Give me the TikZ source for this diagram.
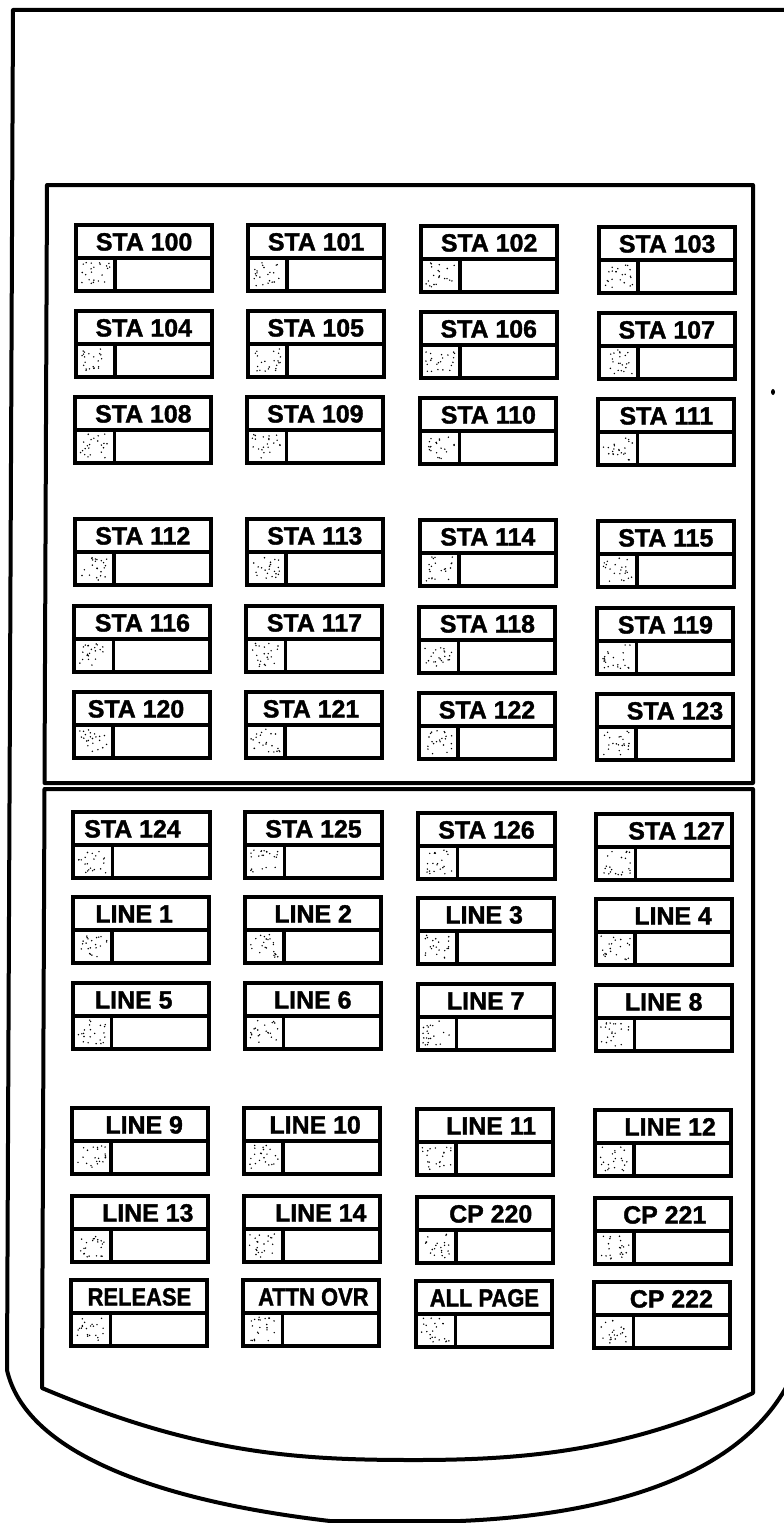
\documentclass[tikz,border=0pt]{standalone}
\usepackage{fontspec}
\setmainfont{Liberation Sans}
\newfontfamily\keyfont{Liberation Sans}[BoldFeatures={FakeBold=1.5}]
\usepackage{graphicx}
\usetikzlibrary{calc}
\tikzset{
  frame/.style={line width=4bp, line join=round},
  keyframe/.style={draw, line width=4bp, minimum width=136bp, minimum height=66bp, inner sep=0pt, outer sep=0pt},
  keyline/.style={line width=3.5bp},
  keytext/.style={inner sep=0pt, font=\keyfont\fontsize{25}{25}\selectfont\bfseries},
  stipple/.style={fill=black}
}
% #1 name, #2 column x (at y=700), #3 top y, #4 label, #5 text shift
\newcommand\kkey[5]{%
  \pgfmathsetmacro\kx{#2-0.0045*(#3-700)}%
  \node[keyframe, anchor=north west] (#1) at (\kx,#3) {};
  \draw[keyline] (#1.west) -- (#1.east);
  \draw[keyline] ([xshift=39bp]#1.west) -- ([xshift=39bp]#1.south west);
  \foreach \i in {1,...,22}{\fill[stipple] ($(#1.south west)+({5+29*rnd},{-5-24*rnd})$) circle (0.8);}
  \pgfmathsetmacro\tx{\kx+68+#5}%
  \node[keytext, anchor=base] (#1-t) at (\tx,#3+25.5) {#4};
}
\begin{document}
\begin{tikzpicture}[x=1bp,y=-1bp]
\pgfmathsetseed{7}
\useasboundingbox (0,0) rectangle (783,1523);
% outer housing
\draw[frame] (790,10) -- (13,10) -- (7,1370)
  .. controls (25,1450) and (150,1500) .. (330,1521) -- (460,1521)
  .. controls (600,1515) and (740,1480) .. (790,1380) -- cycle;
% upper panel
\draw[frame] (47,185) -- (753,185) -- (753,783) -- (44.5,783) -- cycle;
% lower panel
\draw[frame] (44.5,789) -- (753,789) -- (753,1393)
  .. controls (630,1450) and (530,1460) .. (415,1460)
  .. controls (300,1460) and (200,1455) .. (42,1388) -- cycle;
% stray mark
\fill (773,392) ellipse (2 and 3);
% keys
\def\ca{74}\def\cb{246}\def\cc{419}\def\cd{597}
\kkey{k1}{\ca}{225}{STA 100}{0}
\kkey{k2}{\cb}{225}{STA 101}{0}
\kkey{k3}{\cc}{226}{STA 102}{0}
\kkey{k4}{\cd}{227}{STA 103}{0}
\kkey{k5}{\ca}{311}{STA 104}{0}
\kkey{k6}{\cb}{311}{STA 105}{0}
\kkey{k7}{\cc}{312}{STA 106}{0}
\kkey{k8}{\cd}{313}{STA 107}{0}
\kkey{k9}{\ca}{397}{STA 108}{0}
\kkey{k10}{\cb}{397}{STA 109}{0}
\kkey{k11}{\cc}{398}{STA 110}{0}
\kkey{k12}{\cd}{399}{STA 111}{0}
\kkey{k13}{\ca}{519}{STA 112}{0}
\kkey{k14}{\cb}{519}{STA 113}{0}
\kkey{k15}{\cc}{520}{STA 114}{0}
\kkey{k16}{\cd}{521}{STA 115}{0}
\kkey{k17}{\ca}{606}{STA 116}{0}
\kkey{k18}{\cb}{606}{STA 117}{0}
\kkey{k19}{\cc}{607}{STA 118}{0}
\kkey{k20}{\cd}{608}{STA 119}{0}
\kkey{k21}{\ca}{692}{STA 120}{-6}
\kkey{k22}{\cb}{692}{STA 121}{-3}
\kkey{k23}{\cc}{693}{STA 122}{0}
\kkey{k24}{\cd}{694}{STA 123}{10}
\kkey{k25}{\ca}{812}{STA 124}{-9}
\kkey{k26}{\cb}{812}{STA 125}{0}
\kkey{k27}{\cc}{813}{STA 126}{0}
\kkey{k28}{\cd}{814}{STA 127}{12}
\kkey{k29}{\ca}{897}{LINE 1}{-7}
\kkey{k30}{\cb}{897}{LINE 2}{0}
\kkey{k31}{\cc}{898}{LINE 3}{-2}
\kkey{k32}{\cd}{899}{LINE 4}{9}
\kkey{k33}{\ca}{983}{LINE 5}{-7}
\kkey{k34}{\cb}{983}{LINE 6}{0}
\kkey{k35}{\cc}{984}{LINE 7}{0}
\kkey{k36}{\cd}{985}{LINE 8}{0}
\kkey{k37}{\ca}{1108}{LINE 9}{4}
\kkey{k38}{\cb}{1108}{LINE 10}{3}
\kkey{k39}{\cc}{1109}{LINE 11}{6}
\kkey{k40}{\cd}{1110}{LINE 12}{7}
\kkey{k41}{\ca}{1196}{LINE 13}{8}
\kkey{k42}{\cb}{1196}{LINE 14}{9}
\kkey{k43}{\cc}{1197}{CP 220}{6}
\kkey{k44}{\cd}{1198}{CP 221}{2}
\kkey{k45}{\ca}{1280}{\scalebox{0.88}[1]{RELEASE}}{0}
\kkey{k46}{\cb}{1280}{\scalebox{0.88}[1]{ATTN OVR}}{2}
\kkey{k47}{\cc}{1281}{\scalebox{0.88}[1]{ALL PAGE}}{0}
\kkey{k48}{\cd}{1282}{CP 222}{9}
\end{tikzpicture}
\end{document}
